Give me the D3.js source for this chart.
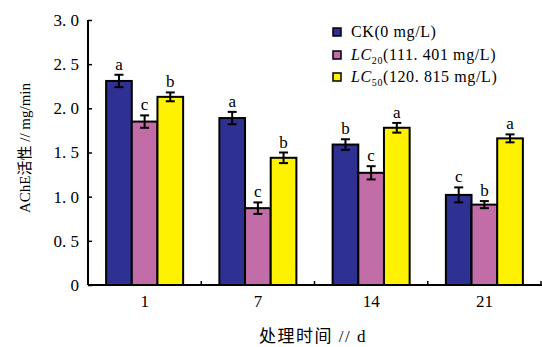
<!DOCTYPE html>
<html><head><meta charset="utf-8">
<script src="https://cdn.jsdelivr.net/npm/d3@7"></script>
<style>body{margin:0;background:#fff}svg{display:block}</style>
</head><body><svg id="c" width="542" height="347"></svg>
<script>
const categories = ["1","7","14","21"];
const seriesNames = ["CK","LC20","LC50"];
const ckValues   = [2.31, 1.89, 1.59, 1.02];
const lc20Values = [1.85, 0.87, 1.27, 0.91];
const lc50Values = [2.13, 1.44, 1.78, 1.66];
const ckErr   = [0.07, 0.07, 0.06, 0.085];
const lc20Err = [0.07, 0.065, 0.075, 0.04];
const lc50Err = [0.05, 0.06, 0.055, 0.045];
const ckLetters   = ["a","a","b","c"];
const lc20Letters = ["c","c","c","b"];
const lc50Letters = ["b","b","a","a"];
const yTicks = [0, 0.5, 1.0, 1.5, 2.0, 2.5, 3.0];
const yTickLabels = ["0","0. 5","1. 0","1. 5","2. 0","2. 5","3. 0"];
const colors = ["#2e3192", "#c26da8", "#fff200"];

(function(){
const svg = d3.select("#c");
const serif = "'Liberation Serif','DejaVu Serif',serif";
const pLeft = 88, pRight = 541, pTop = 20, pBottom = 285;

const x0 = d3.scaleBand().domain(categories).range([pLeft, pRight]).paddingInner(0.32).paddingOuter(0.16);
const x1 = d3.scaleBand().domain(seriesNames).range([0, x0.bandwidth()]);
const y = d3.scaleLinear().domain([0, 3]).range([pBottom, pTop]);

const vals = [ckValues, lc20Values, lc50Values];
const errs = [ckErr, lc20Err, lc50Err];
const lets = [ckLetters, lc20Letters, lc50Letters];
const data = [];
categories.forEach((c, i) => seriesNames.forEach((s, j) => data.push({c, s, j, v: vals[j][i], e: errs[j][i], l: lets[j][i]})));

svg.append("g").selectAll("rect").data(data).join("rect")
  .attr("x", d => x0(d.c) + x1(d.s))
  .attr("y", d => y(d.v))
  .attr("width", x1.bandwidth())
  .attr("height", d => y(0) - y(d.v))
  .attr("fill", d => colors[d.j])
  .attr("stroke", "#000").attr("stroke-width", 2);

const eg = svg.append("g").attr("stroke", "#000").attr("stroke-width", 2);
data.forEach(d => {
  const cx = x0(d.c) + x1(d.s) + x1.bandwidth() / 2;
  eg.append("line").attr("x1", cx).attr("x2", cx).attr("y1", y(d.v + d.e)).attr("y2", y(d.v - d.e));
  eg.append("line").attr("x1", cx - 4.5).attr("x2", cx + 4.5).attr("y1", y(d.v + d.e)).attr("y2", y(d.v + d.e));
  eg.append("line").attr("x1", cx - 4.5).attr("x2", cx + 4.5).attr("y1", y(d.v - d.e)).attr("y2", y(d.v - d.e));
});

svg.append("g").selectAll("text").data(data).join("text")
  .attr("x", d => x0(d.c) + x1(d.s) + x1.bandwidth() / 2)
  .attr("y", d => y(d.v + d.e) - 5)
  .attr("text-anchor", "middle")
  .attr("font-family", serif).attr("font-size", 17)
  .text(d => d.l);

const yAxis = d3.axisLeft(y).tickValues(yTicks).tickFormat((d, i) => yTickLabels[i]).tickSizeInner(-4).tickSizeOuter(0).tickPadding(9);
const ya = svg.append("g").attr("transform", `translate(${pLeft},0)`).call(yAxis);
ya.select(".domain").attr("stroke-width", 2).attr("d", `M0,${pBottom}V${pTop}`);
ya.selectAll(".tick line").attr("stroke-width", 1.5);
ya.selectAll("text").attr("font-family", serif).attr("font-size", 17).attr("fill", "#000");

const xAxis = d3.axisBottom(x0).tickSize(0).tickPadding(10);
const xa = svg.append("g").attr("transform", `translate(0,${pBottom})`).call(xAxis);
xa.select(".domain").attr("stroke-width", 2).attr("d", `M${pLeft},0H${pRight + 1}`);
xa.selectAll("text").attr("font-family", serif).attr("font-size", 17).attr("fill", "#000");
const gap = (x0.step() - x0.bandwidth()) / 2;
xa.selectAll(".bt").data(categories).join("line").attr("class", "bt")
  .attr("x1", c => x0(c) + x0.bandwidth() + gap)
  .attr("x2", c => x0(c) + x0.bandwidth() + gap)
  .attr("y1", 0).attr("y2", -4).attr("stroke", "#000").attr("stroke-width", 1.5);

svg.append("text").attr("transform", "translate(30,148) rotate(-90)")
  .attr("text-anchor", "middle").attr("font-size", 15)
  .attr("font-family", "'Liberation Serif','Noto Sans CJK SC',serif")
  .text("AChE活性 // mg/min");
svg.append("text").attr("x", 313).attr("y", 342).attr("text-anchor", "middle")
  .attr("font-size", 17).attr("letter-spacing", 1.5).attr("font-family", "'Liberation Serif','Noto Sans CJK SC',serif")
  .text("处理时间 // d");

const legendY = [32, 55, 77];
const lg = svg.append("g");
const legendLabels = [
  [{t: "CK(0 mg/L)"}],
  [{t: "LC", i: true}, {t: "20", sub: true}, {t: "(111. 401 mg/L)", back: true}],
  [{t: "LC", i: true}, {t: "50", sub: true}, {t: "(120. 815 mg/L)", back: true}]
];
seriesNames.forEach((s, j) => {
  lg.append("rect").attr("x", 333).attr("y", legendY[j] - 4).attr("width", 8).attr("height", 8)
    .attr("fill", colors[j]).attr("stroke", "#000").attr("stroke-width", 1.5);
  const t = lg.append("text").attr("x", 351).attr("y", legendY[j] + 5)
    .attr("font-family", serif).attr("font-size", 16).attr("letter-spacing", 0.6);
  legendLabels[j].forEach(p => {
    const ts = t.append("tspan").text(p.t);
    if (p.i) ts.attr("font-style", "italic");
    if (p.sub) ts.attr("font-size", 10).attr("dy", 4);
    if (p.back) ts.attr("dy", -4);
  });
});
})();
</script></body></html>
